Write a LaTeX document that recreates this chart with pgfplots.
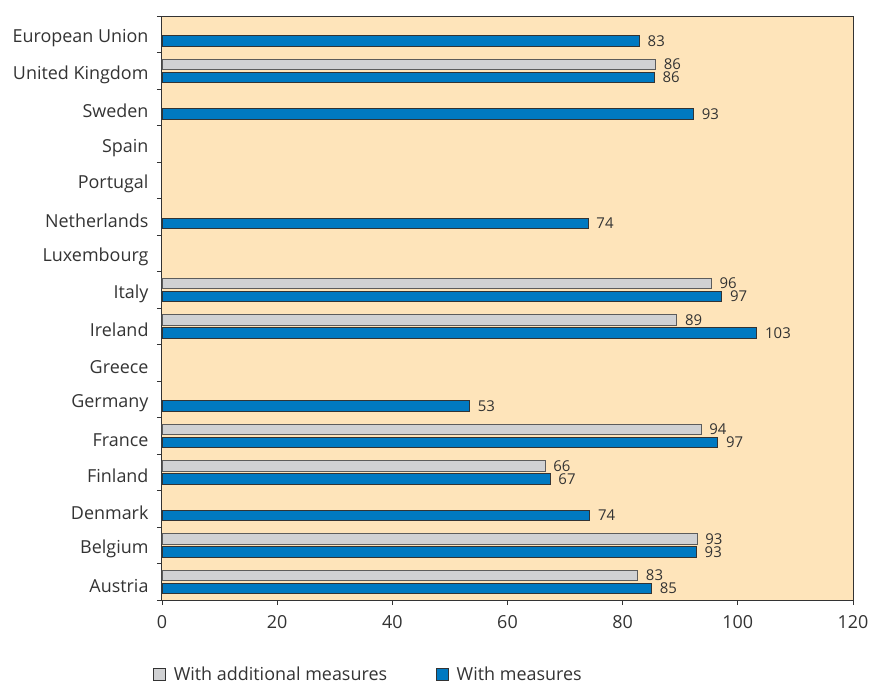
\documentclass[border=0pt]{standalone}
\usepackage{pgfplots}
\pgfplotsset{compat=1.18}
\usepackage{pgfplotstable}
\usepackage{fontspec}
\setmainfont{Open Sans}
\usetikzlibrary{calc}
\definecolor{bg}{HTML}{FEE4BA}
\definecolor{barblue}{HTML}{0079C1}
\definecolor{bargrey}{HTML}{D0D1D3}
\definecolor{txt}{HTML}{333333}

\pgfplotstableread{
i v l
1 85.7 86
7 95.4 96
8 89.4 89
11 93.6 94
12 66.5 66
14 92.9 93
15 82.6 83
}\greydata

\pgfplotstableread{
i v l
0 82.9 83
1 85.5 86
2 92.3 93
5 74.0 74
7 97.2 97
8 103.3 103
10 53.4 53
11 96.5 97
12 67.4 67
13 74.3 74
14 92.8 93
15 85.0 85
}\bluedata

\begin{document}
\begin{tikzpicture}
\begin{axis}[name=ax, scale only axis, width=691bp, height=584bp,
  xmin=0, xmax=120, ymin=-0.5, ymax=15.5, y dir=reverse,
  axis background/.style={fill=bg},
  xbar, bar width=10.5bp,
  xtick={0,20,...,120}, xtick pos=bottom, ytick pos=left, tick align=outside,
  ytick={0,...,15},
  yticklabels={European Union,United Kingdom,Sweden,Spain,Portugal,Netherlands,Luxembourg,Italy,Ireland,Greece,Germany,France,Finland,Denmark,Belgium,Austria},
  minor ytick={-0.5,0.5,...,15.5},
  major y tick style={draw=none},
  minor y tick style={draw=txt, line width=0.8pt},
  minor tick length=5bp, major tick length=5bp,
  x tick style={draw=txt, line width=0.8pt},
  axis line style={txt, line width=1pt},
  /pgf/number format/assume math mode=true,
  ticklabel style={font=\fontsize{18}{21}\selectfont, text=txt},
  y tick label style={xshift=-5bp, yshift=-4bp},
  x tick label style={yshift=-7bp},
  point meta=explicit,
  nodes near coords={\pgfmathprintnumber[fixed,precision=0]{\pgfplotspointmeta}},
  nodes near coords style={font=\fontsize{15}{18}\selectfont, text=txt, anchor=west, inner sep=0pt, xshift=8bp},
  legend style={at={(axis description cs:0,0)}, anchor=north west, xshift=-12bp, yshift=-63bp,
    draw=none, fill=none, font=\fontsize{18}{21}\selectfont, text=txt,
    /tikz/every odd column/.append style={column sep=6bp},
    /tikz/every even column/.append style={column sep=47bp}},
  legend columns=2,
  legend image code/.code={\draw[#1, draw=txt, line width=0.6pt] (0bp,-6bp) rectangle (12bp,6bp);},
]
\addplot[fill=bargrey, draw=txt!80, line width=0.7pt, bar shift=6.5bp] table[x=v, y=i, meta=l] {\greydata};
\addlegendentry{With additional measures}
\addplot[fill=barblue, draw=txt, line width=0.7pt, bar shift=-6.5bp] table[x=v, y=i, meta=l] {\bluedata};
\addlegendentry{With measures}
\end{axis}
\pgfresetboundingbox
\path[use as bounding box] ($(ax.south west)+(-162bp,-86bp)$) rectangle ($(ax.north east)+(19bp,16bp)$);
\end{tikzpicture}
\end{document}
